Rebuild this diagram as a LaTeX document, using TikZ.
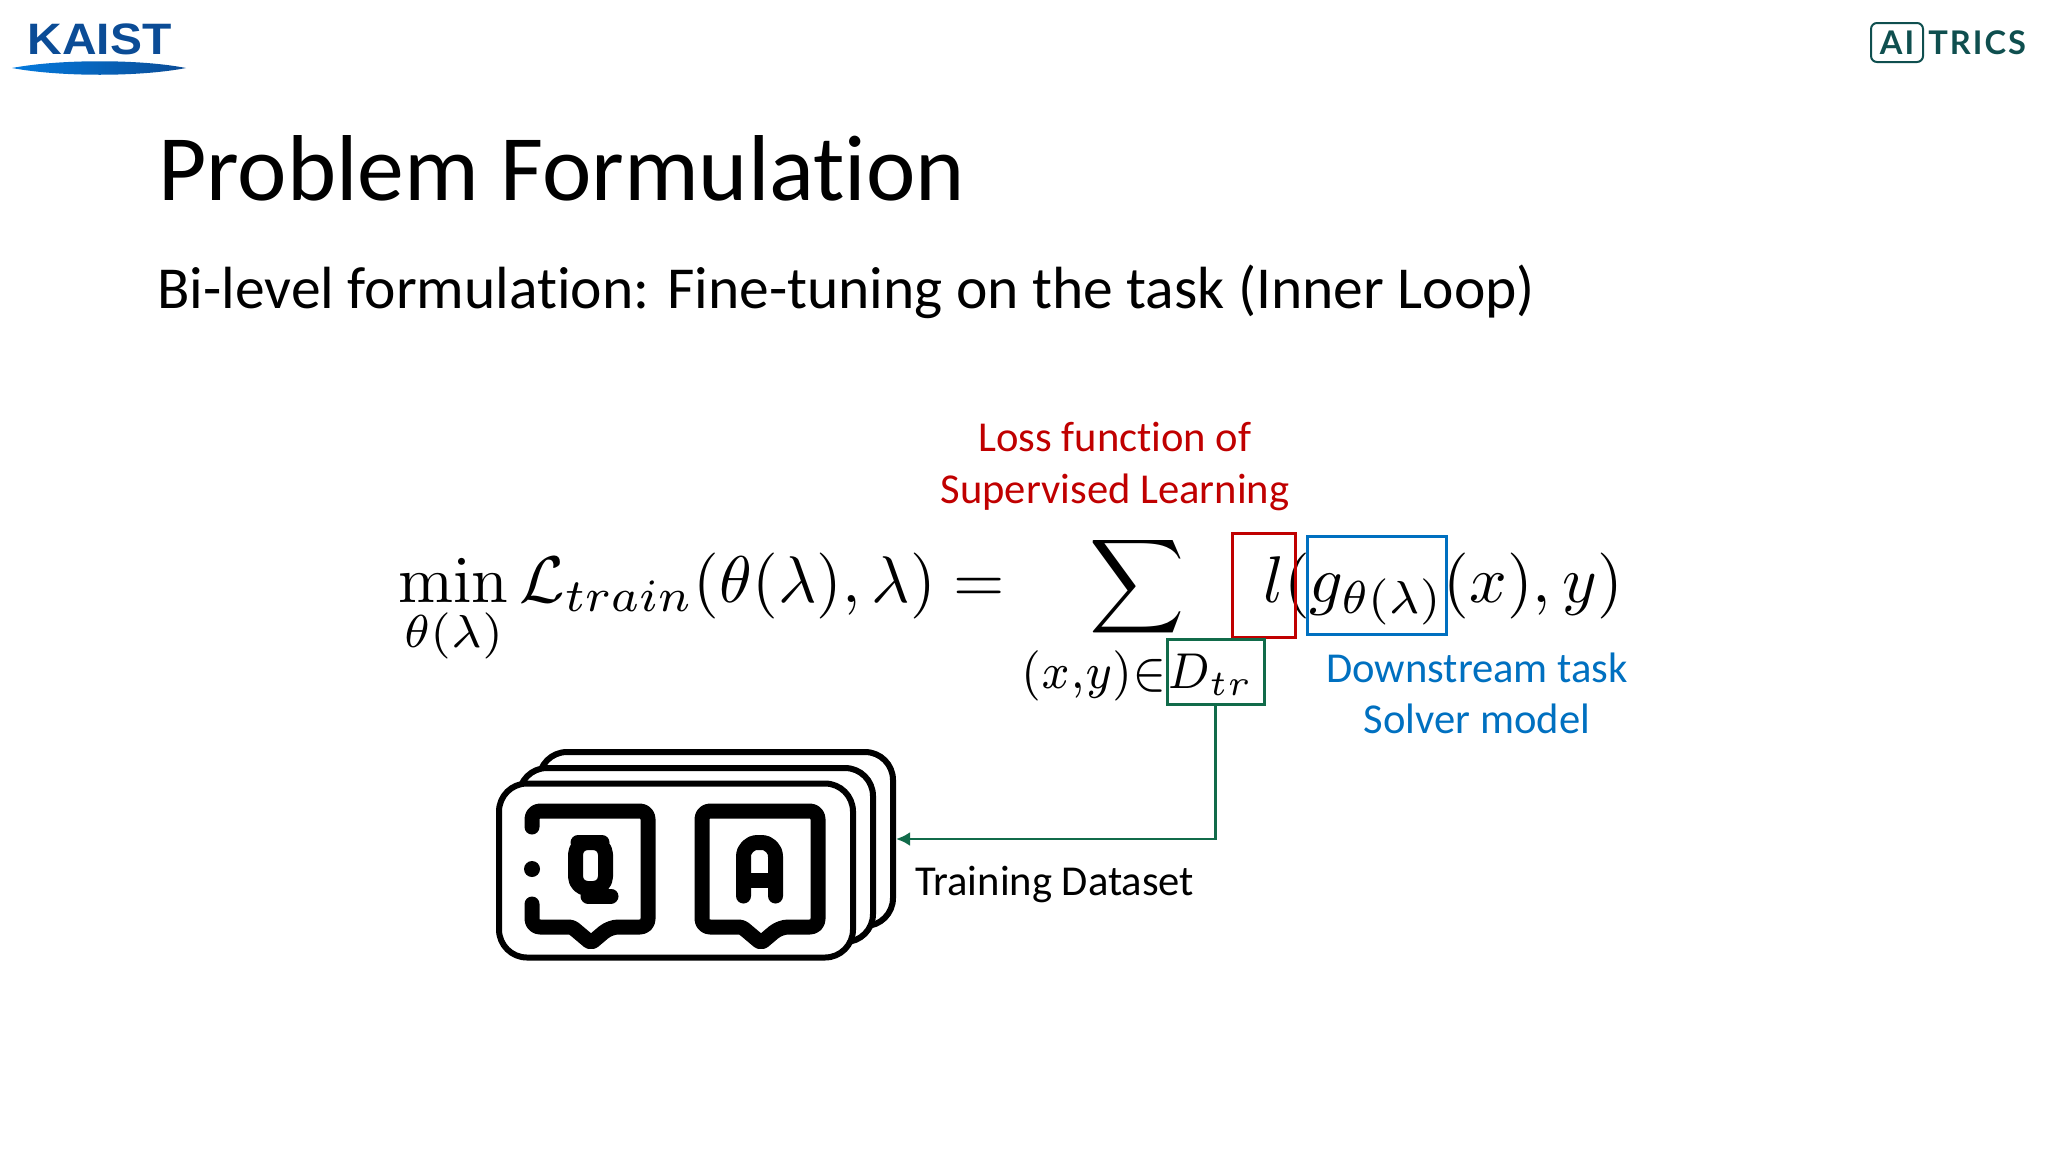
\documentclass[tikz,border=0pt]{standalone}
\usepackage{amsmath,amssymb}
\usepackage[no-math]{fontspec}
\usepackage{xcolor}
\usetikzlibrary{arrows.meta}
\setmainfont[Ligatures=NoCommon]{Carlito}
\newfontfamily\logofont{Liberation Sans}
\newfontfamily\aifont[LetterSpace=6]{Lato}
\definecolor{lossred}{HTML}{C00000}
\definecolor{solverblue}{HTML}{0070C0}
\definecolor{databoxgreen}{HTML}{116B4A}
\definecolor{kaistblue}{HTML}{0B4C96}
\definecolor{aitricsgreen}{HTML}{0F4F4F}
\tikzset{
  slidetext/.style={inner sep=0pt,anchor=base west},
  midtext/.style={inner sep=0pt,anchor=base,font=\fontsize{21.3}{25}\selectfont},
  mathpart/.style={inner sep=0pt,anchor=base west,scale=3.3},
  markbox/.style={draw,line width=1.5pt,inner sep=0pt},
  qacard/.style={draw=black,fill=white,line width=3pt,rounded corners=14pt,inner sep=0pt,minimum width=177pt,minimum height=87pt},
  qaicon/.style={draw=black,line width=7.5pt,line cap=round,line join=round},
}

\begin{document}
\begin{tikzpicture}[x=0.5pt,y=0.5pt,yscale=-1]
\useasboundingbox (0,0) rectangle (2048,1152);

%Logos
\node [inner sep=0pt,anchor=base west,xscale=1.09,text=kaistblue,font=\logofont\bfseries\fontsize{22}{24}\selectfont] (kaistlogo) at (27,54) {KAIST};
\shade [left color=kaistblue!45!cyan!70!blue,middle color=solverblue!85!white,right color=kaistblue] (12,68) .. controls (60,59) and (140,59) .. (186,68) .. controls (140,77) and (60,77) .. (12,68);
\node [draw=aitricsgreen,line width=1pt,rounded corners=3pt,inner sep=0pt,minimum width=26pt,minimum height=19.5pt] (aibox) at (1897,42.5) {};
\node [text=aitricsgreen,font=\aifont\bfseries\fontsize{16.3}{18}\selectfont] (ailabel) at (aibox) {AI};
\node [slidetext,text=aitricsgreen,font=\aifont\bfseries\fontsize{16.3}{18}\selectfont] (trics) at (1928,54) {TRICS};

%Title
\node [slidetext,font=\fontsize{46.8}{56}\selectfont] (title) at (158,200) {Problem Formulation};
\node [slidetext,font=\fontsize{29.77}{36}\selectfont] (subtitle) at (157,308) {Bi-level formulation: Fine-tuning on the task (Inner Loop)};

%Formula
\node [mathpart] (objective) at (397,602) {$\displaystyle\min_{\theta(\lambda)}\mathcal{L}_{train}(\theta(\lambda),\lambda)=$};
\node [inner sep=0pt,anchor=base,scale=3.3] (sumpart) at (1137,603) {$\displaystyle\sum$};
\node [inner sep=0pt,anchor=base,xscale=3.2,yscale=3.6] (sumindex) at (1137,688) {$\scriptstyle(x,y)\in D_{tr}$};
\node [mathpart] (losspart) at (1262,602) {$l(g_{\theta(\lambda)}(x),y)$};

%Boxes
\node [markbox,draw=lossred,minimum width=31.5pt,minimum height=52pt] (lossbox) at (1264,585) {};
\node [markbox,draw=solverblue,minimum width=69.5pt,minimum height=49pt] (solverbox) at (1377,585) {};
\node [markbox,draw=databoxgreen,minimum width=48.5pt,minimum height=32.5pt] (databox) at (1215.5,671.5) {};

%Labels
\node [midtext,text=lossred] (losslabel) at (1115,451) {Loss function of};
\node [midtext,text=lossred] (losslabelb) at (1115,503) {Supervised Learning};
\node [midtext,text=solverblue] (solverlabel) at (1477,682) {Downstream task};
\node [midtext,text=solverblue] (solverlabelb) at (1477,733) {Solver model};
\node [midtext,anchor=base west] (datalabel) at (915,895) {Training Dataset};

%Cards
\node [qacard] (cardback) at (716,839) {};
\node [qacard] (cardmid) at (696,855) {};
\node [qacard] (cardfront) at (676,870.5) {};

%Question bubble
\draw [qaicon,rounded corners=4pt] (532,827) -- (532,811) -- (648,811) -- (648,927) -- (610,927) [rounded corners=1.5pt] -- (591,943) -- (572,927) [rounded corners=4pt] -- (532,927) -- (532,904);
\fill (532,869) circle (4pt);
\draw [qaicon,rounded corners=6pt] (590,842.5) -- (605.5,842.5) -- (605.5,888.5) -- (575.5,888.5) -- (575.5,842.5) -- cycle;
\draw [qaicon] (588,896) -- (611,896);

%Answer bubble
\draw [qaicon,rounded corners=4pt] (702,869) -- (702,811) -- (818,811) -- (818,927) -- (780,927) [rounded corners=1.5pt] -- (761,943) -- (742,927) [rounded corners=4pt] -- (702,927) -- cycle;
\draw [qaicon,rounded corners=7pt] (743.5,896) -- (743.5,842.5) -- (775.5,842.5) -- (775.5,896);
\draw [qaicon,line cap=butt] (743.5,880) -- (775.5,880);

%Connector
\draw [databoxgreen,line width=1.4pt,-{Latex[length=7pt,width=7pt]}] (databox.south) |- (cardback.east);
\end{tikzpicture}
\end{document}
